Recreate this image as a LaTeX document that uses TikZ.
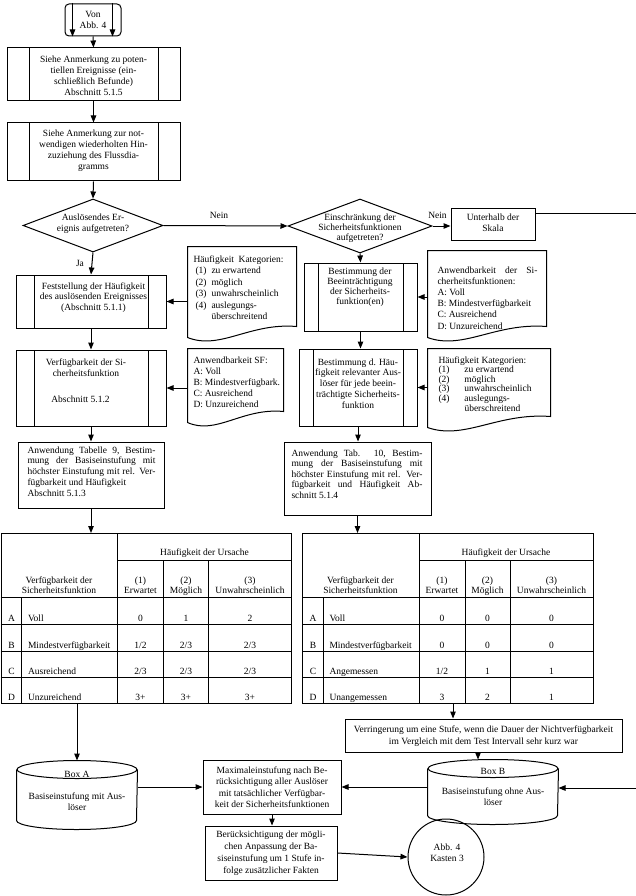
\documentclass[tikz,border=0pt]{standalone}
\usepackage{fontspec}
\setmainfont{Liberation Serif}
\usetikzlibrary{shapes.geometric,arrows.meta,calc}
\newcommand\fsz[1]{\fontsize{9.5}{#1}\selectfont}
\newcommand\mkbox[6]{\node[#1, minimum width={(#5)-(#3)}, minimum height={(#6)-(#4)}] (#2) at ({((#3)+(#5))/2},{((#4)+(#6))/2}) {};}
\newcommand\docout[1]{\draw (#1.north west) -- (#1.north east) -- ($(#1.south east)+(0,-16)$) .. controls ($(#1.south west)!0.57!(#1.south east)+(0,-20)$) and ($(#1.south west)!0.3!(#1.south east)+(0,8)$) .. ($(#1.south west)+(0,-5)$) -- cycle;}
\newcommand\cylout[2]{\draw ($(#1.north west)+(0,9)$) -- ($(#1.south west)+(0,-9)$) arc[start angle=180, end angle=360, x radius=#2pt, y radius=9pt] -- ($(#1.north east)+(0,9)$);
 \draw ($(#1.north)+(0,9)$) ellipse [x radius=#2pt, y radius=9pt];}
\newcommand\jl[2]{\makebox[#1pt][s]{#2}}
\newcommand\hstrut{\rule{0pt}{7pt}\rule[-2.5pt]{0pt}{2.5pt}}
\newcommand\tabgrid[1]{%
 \node[draw, rectangle, inner sep=0, minimum width=290.5, minimum height=170, anchor=north west] (#1) at (0,533) {};
 \draw (117,533) -- (117,703) (117,560) -- (290.5,560) (0,597) -- (290.5,597)
   (163,560) -- (163,703) (208,560) -- (208,703) (21,597) -- (21,703)
   (0,624) -- (290.5,624) (0,651) -- (290.5,651) (0,677) -- (290.5,677);
 \node[tabtxt] (#1h) at (204,553) {\hstrut Häufigkeit der Ursache};
 \node[tabtxt] (#1v) at (58.5,586) {\hstrut Verfügbarkeit der\\\hstrut Sicherheitsfunktion};
 \node[tabtxt] (#1c1) at (140,586) {\hstrut(1)\\\hstrut Erwartet};
 \node[tabtxt] (#1c2) at (185.5,586) {\hstrut(2)\\\hstrut Möglich};
 \node[tabtxt] (#1c3) at (249.5,586) {\hstrut(3)\\\hstrut Unwahrscheinlich};}
\newcommand\tabrow[8]{%
 \node[celltxt, anchor=base] (#1r#2l) at (11,#3) {#4};
 \node[celltxt, anchor=base west] (#1r#2n) at (27,#3) {#5};
 \node[celltxt, anchor=base] (#1r#2a) at (140,#3) {#6};
 \node[celltxt, anchor=base] (#1r#2b) at (185.5,#3) {#7};
 \node[celltxt, anchor=base] (#1r#2c) at (249.5,#3) {#8};}
\begin{document}
\begin{tikzpicture}[x=1pt, y=-1pt, line width=1pt, >={Triangle[length=7pt,width=5.5pt]},
 txt/.style={align=center, inner sep=0, font=\fsz{11}},
 ltxt/.style={align=left, inner sep=0, font=\fsz{11}, anchor=north west},
 tabtxt/.style={align=center, inner sep=0, font=\fsz{10.3}},
 celltxt/.style={inner sep=0, font=\fsz{10.3}},
 plain/.style={draw, rectangle, inner sep=0},
 subproc/.style={draw, rectangle, inner sep=0, path picture={\draw[line width=1pt] ([xshift=#1pt]path picture bounding box.north west) -- ([xshift=#1pt]path picture bounding box.south west) ([xshift=-#1pt]path picture bounding box.north east) -- ([xshift=-#1pt]path picture bounding box.south east);}},
 decision/.style={draw, diamond, inner sep=0},
 docbox/.style={rectangle, inner sep=0},
 cylbox/.style={rectangle, inner sep=0},
 lab/.style={inner sep=0, font=\fsz{11}}]
\fill[white] (0,0) rectangle (636,896);
\useasboundingbox (0,0) rectangle (636,896);
% top
\node[draw, rectangle, rounded corners=4pt, inner sep=0, minimum width=56, minimum height=32] (von) at (93,20) {};
\draw[->] ([xshift=8pt]von.north west) -- ([xshift=8pt]von.south west);
\draw[->] ([xshift=-9pt]von.north east) -- ([xshift=-9pt]von.south east);
\node[txt] (vont) at (93,19.5) {Von\\Abb. 4};
\mkbox{subproc=22}{box2}{7}{48}{180}{101}
\node[txt] (box2t) at (93.5,75.5) {Siehe Anmerkung zu poten-\\tiellen Ereignisse (ein-\\schließlich Befunde)\\Abschnitt 5.1.5};
\mkbox{subproc=22}{box3}{7}{123}{180}{181}
\node[txt] (box3t) at (93.5,150.5) {Siehe Anmerkung zur not-\\wendigen wiederholten Hin-\\zuziehung des Flussdia-\\gramms};
% decisions
\node[decision, minimum width=140, minimum height=53] (dia1) at (93,225.5) {};
\node[txt] (dia1t) at (93,223.5) {Auslösendes Er-\\eignis aufgetreten?};
\node[decision, minimum width=144, minimum height=54] (dia2) at (360,226) {};
\node[txt, font=\fsz{10}] (dia2t) at (360,228) {Einschränkung der\\Sicherheitsfunktionen\\aufgetreten?};
\mkbox{plain}{unt}{451}{208}{535}{240}
\node[txt] (untt) at (493,223) {Unterhalb der\\Skala};
\node[lab] (nein1) at (219,215) {Nein};
\node[lab] (nein2) at (437.5,215) {Nein};
\node[lab] (ja) at (80,263) {Ja};
% left column
\mkbox{subproc=18}{box4}{16}{275}{166}{328}
\node[txt, font=\fsz{10.5}] (box4t) at (93.5,297.5) {Feststellung der Häufigkeit\\des auslösenden Ereignisses\\(Abschnitt 5.1.1)};
\mkbox{docbox}{docL1}{188}{247}{296}{342}
\docout{docL1}
\node[ltxt, font=\fsz{11.5}] (docL1t) at (193,255) {\jl{90}{Häufigkeit Kategorien:}\\
 \hspace*{2pt}\makebox[16pt][l]{(1)}zu erwartend\\
 \hspace*{2pt}\makebox[16pt][l]{(2)}möglich\\
 \hspace*{2pt}\makebox[16pt][l]{(3)}unwahrscheinlich\\
 \hspace*{2pt}\makebox[16pt][l]{(4)}auslegungs-\\
 \hspace*{18pt}überschreitend};
\mkbox{subproc=18}{box6}{16}{350}{166}{426}
\node[txt] (box6t) at (86,381) {Verfügbarkeit der Si-\\cherheitsfunktion\\[15pt]Abschnitt 5.1.2\hspace*{11pt}};
\mkbox{docbox}{docL2}{188}{349}{283}{427}
\docout{docL2}
\node[ltxt] (docL2t) at (193,356) {Anwendbarkeit SF:\\A: Voll\\B: Mindestverfügbark.\\C: Ausreichend\\D: Unzureichend};
\mkbox{plain}{box7}{18}{442}{164}{508}
\node[ltxt, anchor=west, font=\fsz{10.8}] (box7t) at (27,471.5) {\jl{128}{Anwendung Tabelle 9, Bestim-}\\\jl{128}{mung der Basiseinstufung mit}\\\jl{128}{höchster Einstufung mit rel. Ver-}\\fügbarkeit und Häufigkeit\\Abschnitt 5.1.3};
% right column
\mkbox{subproc=14}{box5}{304}{263}{417}{331}
\node[txt, font=\fsz{10}] (box5t) at (360,287) {Bestimmung der\\Beeinträchtigung\\der Sicherheits-\\funktion(en)};
\mkbox{docbox}{docR1}{428}{251}{546}{342}
\docout{docR1}
\node[ltxt, font=\fsz{11.2}] (docR1t) at (437,266) {\jl{100}{Anwendbarkeit der Si-}\\cherheitsfunktionen:\\A: Voll\\B: Mindestverfügbarkeit\\C: Ausreichend\\D: Unzureichend};
\mkbox{subproc=14}{box8}{299}{349}{417}{426}
\node[txt, font=\fsz{10.8}] (box8t) at (358,383.5) {Bestimmung d. Häu-\\figkeit relevanter Aus-\\löser für jede beein-\\trächtigte Sicherheits-\\funktion};
\mkbox{docbox}{docR2}{428}{349}{550}{432}
\docout{docR2}
\node[ltxt, font=\fsz{9.6}] (docR2t) at (438,356) {Häufigkeit Kategorien:\\
 \makebox[26pt][l]{(1)}zu erwartend\\
 \makebox[26pt][l]{(2)}möglich\\
 \makebox[26pt][l]{(3)}unwahrscheinlich\\
 \makebox[26pt][l]{(4)}auslegungs-\\
 \hspace*{26pt}überschreitend};
\mkbox{plain}{box9}{284}{442}{431}{515}
\node[ltxt, anchor=west, font=\fsz{10.5}] (box9t) at (291,474) {\jl{131}{Anwendung Tab. 10, Bestim-}\\\jl{131}{mung der Basiseinstufung mit}\\\jl{131}{höchster Einstufung mit rel. Ver-}\\\jl{131}{fügbarkeit und Häufigkeit Ab-}\\schnitt 5.1.4};
% tables
\begin{scope}[shift={(0.5,0)}]
 \tabgrid{tabL}
 \tabrow{tabL}{1}{621}{A}{Voll}{0}{1}{2}
 \tabrow{tabL}{2}{648.3}{B}{Mindestverfügbarkeit}{1/2}{2/3}{2/3}
 \tabrow{tabL}{3}{674}{C}{Ausreichend}{2/3}{2/3}{2/3}
 \tabrow{tabL}{4}{700}{D}{Unzureichend}{3+}{3+}{3+}
\end{scope}
\begin{scope}[shift={(302,0)}]
 \tabgrid{tabR}
 \tabrow{tabR}{1}{621}{A}{Voll}{0}{0}{0}
 \tabrow{tabR}{2}{648.3}{B}{Mindestverfügbarkeit}{0}{0}{0}
 \tabrow{tabR}{3}{674}{C}{Angemessen}{1/2}{1}{1}
 \tabrow{tabR}{4}{700}{D}{Unangemessen}{3}{2}{1}
\end{scope}
% bottom
\mkbox{plain}{verr}{345}{719}{622}{752}
\node[txt, font=\fsz{11.5}] (verrt) at (483.5,736) {Verringerung um eine Stufe, wenn die Dauer der Nichtverfügbarkeit\\im Vergleich mit dem Test Intervall sehr kurz war};
\mkbox{cylbox}{boxA}{17}{761}{137}{829}
\cylout{boxA}{60}
\node[txt] (boxAt1) at (77,774) {Box A};
\node[txt] (boxAt2) at (77,802) {Basiseinstufung mit Aus-\\löser};
\mkbox{cylbox}{boxB}{428}{760}{558}{824}
\cylout{boxB}{65}
\node[txt] (boxBt1) at (493,771) {Box B};
\node[txt] (boxBt2) at (493,797) {Basiseinstufung ohne Aus-\\löser};
\mkbox{plain}{maxi}{203}{760}{341}{814}
\node[txt, font=\fsz{11.5}] (maxit) at (272,787) {Maximaleinstufung nach Be-\\rücksichtigung aller Auslöser\\mit tatsächlicher Verfügbar-\\keit der Sicherheitsfunktionen};
\mkbox{plain}{berk}{205}{826}{337}{880}
\node[txt, font=\fsz{12}] (berkt) at (271,853.5) {Berücksichtigung der mögli-\\chen Anpassung der Ba-\\siseinstufung um 1 Stufe in-\\folge zusätzlicher Fakten};
\node[draw, circle, inner sep=0, minimum size=76] (circ) at (446,857) {};
\node[txt] (circt) at (447,853) {Abb. 4\\Kasten 3};
% connectors
\draw[->] (von.south) -- (box2.north);
\draw[->] (box2.south) -- (box3.north);
\draw[->] (box3.south) -- (dia1.north);
\draw[->] (dia1.east) -- (dia2.west);
\draw[->] (dia2.east) -- (dia2.east -| unt.west);
\coordinate (rout) at (636,213);
\draw (unt.east |- rout) -- (rout);
\draw[->] (dia1.south) -- (box4.north);
\draw[->] (dia2.south) -- (box5.north);
\draw[->] (box4.east -| docL1.west) -- (box4.east);
\draw[->] (box5.east -| docR1.west) -- (box5.east);
\draw[->] (box4.south) -- (box6.north);
\draw[->] (box6.east -| docL2.west) -- (box6.east);
\draw[->] (box5.south) -- (box5.south |- box8.north);
\draw[->] (box8.east -| docR2.west) -- (box8.east);
\draw[->] (box6.south) -- (box6.south |- box7.north);
\draw[->] (box8.south) -- (box8.south |- box9.north);
\draw[->] (box7.south) -- (box7.south |- tabL.north);
\draw[->] (box9.south) -- (box9.south |- tabR.north);
\draw[->] (boxA.north |- tabL.south) -- (boxA.north);
\coordinate (vin) at ($(verr.north)+(-30.5,0)$);
\draw[->] (vin |- tabR.south) -- (vin);
\coordinate (vout) at ($(verr.south)+(-5.5,0)$);
\draw[->] (vout) -- (vout |- boxB.north);
\draw[->] (boxA.east |- maxi.west) -- (maxi.west);
\draw[->] (boxB.west |- maxi.east) -- (maxi.east);
\coordinate (rin) at (636,788);
\draw[->] (rin) -- (rin -| boxB.east);
\draw[->] (maxi.south) -- (maxi.south |- berk.north);
\draw[->] (berk.east) -- (circ.west);
\end{tikzpicture}
\end{document}
